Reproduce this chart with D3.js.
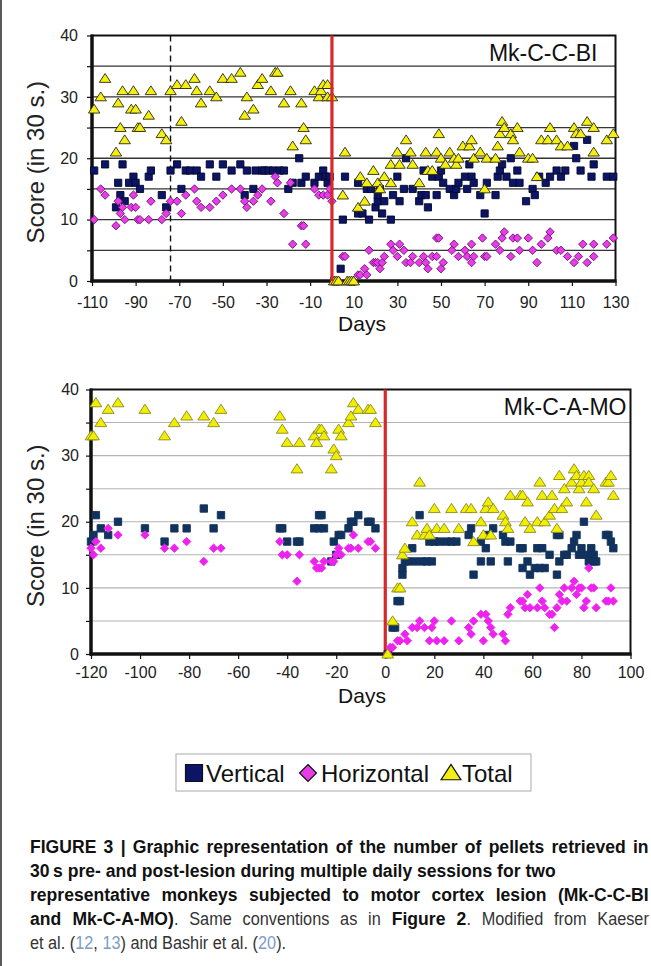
<!DOCTYPE html>
<html>
<head>
<meta charset="utf-8">
<script src="https://cdn.jsdelivr.net/npm/d3@7"></script>
<style>
  body { margin: 0; background: #fff; }
  svg { display: block; font-family: "Liberation Sans", Arial, sans-serif; }
</style>
</head>
<body>
<svg id="mysvg" width="651" height="966"></svg>
<script>
// ---- data: [day, score] ----
var scoreTicks = [0, 5, 10, 15, 20, 25, 30, 35, 40];
var ccblDayTicks = [-110, -90, -70, -50, -30, -10, 10, 30, 50, 70, 90, 110, 130];
var camoDayTicks = [-120, -100, -80, -60, -40, -20, 0, 20, 40, 60, 80, 100];
var seriesNames = ["Vertical", "Horizontal", "Total"];

var ccblVertical = [[-109,18],[-104,19],[-99,12],[-98,16],[-97,14],[-96,19],[-95,13],[-93,16],[-91,17],[-90,16],[-88,15],[-84,17],[-83,18],[-78,14],[-76,12],[-74,18],[-71,19],[-69,15],[-67,18],[-65,18],[-62,18],[-60,17],[-56,19],[-53,17],[-50,19],[-46,18],[-42,19],[-40,14],[-39,18],[-36,15],[-35,18],[-32,18],[-31,18],[-29,18],[-27,18],[-24,18],[-22,18],[-20,15],[-18,16],[-15,20],[-14,16],[-12,17],[-8,16],[-6,17],[-4,18],[-3,17],[-2,16],[-1,17],
  [1,0],[2,0],[4,2],[5,10],[6,17],[12,16],[12,11],[14,11],[16,15],[17,10],[18,15],[20,12],[21,13],[21,14],[22,15],[23,11],[24,13],[27,10],[28,14],[30,17],[31,13],[33,15],[34,20],[37,15],[40,13],[41,14],[42,18],[43,14],[44,12],[46,17],[48,14],[49,17],[50,18],[51,16],[54,15],[56,14],[57,15],[58,16],[61,17],[62,15],[63,19],[64,17],[65,16],[68,14],[70,11],[71,16],[75,14],[76,17],[77,18],[78,19],[80,17],[82,20],[83,16],[85,18],[86,16],[89,13],[92,15],[93,14],[95,17],[98,16],[100,17],[103,18],[105,17],[107,18],[111,22],[112,20],[114,18],[117,23],[119,17],[120,19],[126,17],[129,17]];
var ccblHorizontal = [[-109,10],[-106,15],[-104,14],[-99,9],[-98,13],[-97,11],[-96,12],[-95,10],[-92,12],[-91,14],[-90,12],[-89,10],[-88,10],[-84,10],[-83,13],[-78,10],[-76,11],[-74,13],[-71,13],[-69,11],[-67,14],[-63,15],[-62,13],[-60,12],[-56,12],[-53,13],[-50,14],[-46,15],[-42,15],[-40,13],[-39,12],[-36,13],[-34,14],[-32,15],[-28,13],[-26,17],[-25,16],[-22,11],[-19,16],[-18,6],[-14,9],[-13,9],[-12,6],[-8,15],[-6,14],[-4,14],[-2,14],[-1,15],[0,13],
  [1,0],[2,0],[3,0],[5,4],[6,4],[8,0],[9,0],[10,0],[12,1],[13,1],[15,2],[16,1],[17,5],[19,3],[20,3],[21,3],[22,2],[23,3],[24,4],[27,6],[28,5],[30,4],[31,6],[33,5],[34,3],[36,3],[37,4],[40,3],[42,4],[43,3],[44,2],[46,4],[48,4],[48,7],[49,7],[50,2],[51,3],[55,5],[56,6],[58,4],[61,5],[62,4],[64,3],[64,6],[65,4],[69,7],[70,4],[71,4],[75,6],[77,5],[78,7],[79,8],[82,4],[83,7],[85,7],[86,5],[90,7],[92,5],[94,3],[96,6],[99,7],[100,8],[103,5],[105,5],[108,4],[111,3],[113,4],[115,6],[117,3],[120,4],[120,6],[126,6],[129,7]];
var ccblTotal = [[-109,28],[-106,30],[-104,33],[-99,21],[-98,29],[-97,25],[-96,31],[-95,23],[-92,28],[-91,31],[-90,28],[-89,25],[-88,25],[-84,27],[-83,31],[-78,24],[-76,23],[-74,31],[-71,32],[-69,26],[-67,32],[-63,33],[-62,31],[-60,29],[-56,31],[-53,30],[-50,33],[-46,33],[-42,34],[-40,27],[-39,30],[-36,28],[-34,32],[-32,33],[-28,31],[-26,34],[-25,34],[-22,29],[-19,31],[-18,22],[-14,29],[-13,25],[-12,23],[-8,31],[-6,30],[-5,31],[-4,32],[-2,32],[-2,30],[0,30],
  [1,0],[2,0],[3,0],[7,0],[8,0],[9,0],[10,0],[5,14],[6,21],[12,12],[13,17],[15,13],[16,16],[19,18],[21,16],[22,15],[24,17],[27,16],[27,19],[30,21],[31,19],[34,23],[36,21],[37,19],[40,16],[43,21],[44,18],[46,18],[48,21],[49,24],[50,20],[52,19],[54,21],[56,20],[57,19],[58,20],[60,22],[63,22],[64,23],[65,20],[68,21],[70,15],[71,20],[75,20],[76,22],[77,24],[78,26],[79,25],[82,24],[83,23],[85,25],[86,21],[90,20],[92,20],[94,17],[96,23],[99,23],[100,25],[103,23],[105,22],[108,22],[111,25],[112,24],[114,24],[117,26],[120,21],[120,25],[126,23],[129,24]];

var camoVertical = [[-120,17],[-119,18],[-118,21],[-116,19],[-113,18],[-109,20],[-98,19],[-90,17],[-86,19],[-81,19],[-74,22],[-70,19],[-67,21],[-43,19],[-42,19],[-40,17],[-36,17],[-35,17],[-29,19],[-27,21],[-26,21],[-27,19],[-25,19],[-22,14],[-21,17],[-20,15],[-19,18],[-18,18],[-15,19],[-14,20],[-13,20],[-11,21],[-7,20],[-6,20],[-4,19],
  [1,0],[3,4],[4,4],[5,8],[6,8],[7,13],[7,12],[8,14],[9,14],[11,16],[12,14],[14,21],[15,14],[17,14],[19,14],[18,17],[20,17],[22,17],[25,17],[27,17],[29,17],[34,18],[35,19],[36,12],[39,14],[39,17],[41,16],[42,18],[43,14],[44,19],[48,18],[49,17],[50,14],[51,17],[55,16],[56,16],[56,13],[58,14],[59,12],[61,13],[62,16],[63,13],[64,16],[65,13],[67,15],[70,12],[70,18],[71,18],[71,14],[73,15],[74,15],[76,16],[77,17],[78,18],[79,15],[80,16],[81,20],[82,15],[83,14],[84,16],[85,15],[85,14],[86,14],[90,18],[91,18],[92,17],[93,16]];
var camoHorizontal = [[-120,16],[-119,15],[-118,17],[-116,16],[-113,19],[-109,18],[-98,18],[-90,16],[-86,16],[-81,17],[-74,14],[-70,16],[-67,16],[-43,17],[-42,15],[-40,15],[-36,11],[-35,15],[-29,14],[-28,13],[-27,13],[-26,13],[-25,14],[-22,14],[-21,14],[-20,15],[-19,16],[-18,15],[-15,16],[-14,16],[-13,18],[-11,16],[-7,17],[-6,17],[-4,16],
  [1,0],[2,1],[3,1],[5,2],[6,2],[8,3],[9,2],[11,4],[13,4],[14,5],[16,4],[18,2],[19,4],[20,5],[21,2],[24,2],[27,5],[30,2],[34,4],[35,3],[36,5],[39,6],[40,2],[41,6],[42,5],[43,4],[44,3],[48,3],[49,2],[50,6],[51,7],[55,8],[56,8],[57,7],[58,9],[59,7],[62,7],[63,10],[64,8],[65,7],[67,6],[68,6],[69,4],[70,7],[71,9],[72,8],[73,10],[74,8],[76,10],[77,11],[78,9],[79,10],[80,10],[81,7],[82,8],[83,13],[84,10],[85,10],[86,7],[90,8],[91,8],[92,10],[93,8]];
var camoTotal = [[-120,33],[-119,33],[-118,38],[-116,35],[-113,37],[-109,38],[-98,37],[-90,33],[-86,35],[-81,36],[-74,36],[-70,35],[-67,37],[-43,36],[-42,34],[-40,32],[-36,28],[-35,32],[-29,33],[-28,32],[-27,34],[-26,34],[-25,33],[-22,28],[-21,31],[-20,30],[-19,34],[-18,33],[-15,35],[-14,36],[-13,38],[-11,37],[-7,37],[-6,37],[-4,35],
  [1,0],[3,5],[5,10],[6,10],[7,15],[8,16],[11,20],[13,18],[14,26],[16,18],[17,19],[18,18],[20,22],[21,19],[24,19],[27,22],[30,19],[33,22],[35,22],[36,17],[39,20],[40,18],[41,22],[42,23],[43,18],[44,22],[48,21],[49,20],[50,19],[51,24],[55,24],[56,24],[57,20],[58,23],[59,19],[62,20],[63,26],[64,24],[65,20],[67,21],[68,24],[69,22],[70,19],[71,27],[72,22],[73,25],[74,23],[76,26],[77,28],[78,27],[79,25],[80,26],[81,27],[82,23],[83,27],[83,26],[85,25],[86,21],[90,26],[91,26],[92,27],[93,24]];

var svg = d3.select("#mysvg");

// left page rule
svg.append("line").attr("x1", 1).attr("x2", 1).attr("y1", 0).attr("y2", 966)
  .attr("stroke", "#222").attr("stroke-width", 1.5);

function squarePath(s){ return "M" + (-s) + "," + (-s) + "h" + (2*s) + "v" + (2*s) + "h" + (-2*s) + "Z"; }
function diamondPath(s){ return "M0," + (-s) + "L" + s + ",0L0," + s + "L" + (-s) + ",0Z"; }
function trianglePath(s){ return "M0," + (-s*0.95) + "L" + (s*1.1) + "," + (s*0.75) + "L" + (-s*1.1) + "," + (s*0.75) + "Z"; }

function drawPanel(p){
  var x = d3.scaleLinear().domain(p.xDomain).range([p.left, p.right]);
  var y = d3.scaleLinear().domain([0, 40]).range([p.bottom, p.top]);
  var g = svg.append("g");

  // gridlines
  g.selectAll(".grid").data(scoreTicks.filter(function(d){ return d > 0 && d < 40; }))
    .enter().append("line")
      .attr("x1", p.left).attr("x2", p.right)
      .attr("y1", function(d){ return y(d); }).attr("y2", function(d){ return y(d); })
      .attr("stroke", p.gridColor).attr("stroke-width", p.gridWidth);

  // dashed reference line (first panel only)
  if (p.dashDay !== undefined) {
    g.append("line")
      .attr("x1", x(p.dashDay)).attr("x2", x(p.dashDay))
      .attr("y1", p.top).attr("y2", p.bottom)
      .attr("stroke", "#111").attr("stroke-width", 1.4)
      .attr("stroke-dasharray", "6,4");
  }

  // axes (plain hyphen minus like the original)
  var yAxis = g.append("g")
    .attr("transform", "translate(" + p.left + ",0)")
    .call(d3.axisLeft(y).tickValues(scoreTicks).tickSize(5).tickPadding(p.yPad)
      .tickFormat(function(d){ return d % 10 === 0 ? String(d) : ""; }));
  var xAxis = g.append("g")
    .attr("transform", "translate(0," + p.bottom + ")")
    .call(d3.axisBottom(x).tickValues(p.xTicks).tickSize(5).tickPadding(p.xPad)
      .tickFormat(function(d){ return String(d); }));
  [yAxis, xAxis].forEach(function(a){
    a.select(".domain").remove();
    a.selectAll("line").attr("stroke", "#111").attr("stroke-width", 1.2);
    a.selectAll("text").attr("font-size", "16px").attr("fill", "#222")
      .attr("font-family", "Liberation Sans, Arial, sans-serif");
  });

  // frame: thin top/right, heavy left/bottom
  g.append("rect").attr("x", p.left).attr("y", p.top)
    .attr("width", p.right - p.left).attr("height", p.bottom - p.top)
    .attr("fill", "none").attr("stroke", "#111").attr("stroke-width", 2);
  g.append("line").attr("x1", p.left).attr("x2", p.left).attr("y1", p.top - 1).attr("y2", p.bottom + 1.5)
    .attr("stroke", "#111").attr("stroke-width", 3.5);
  g.append("line").attr("x1", p.left - 1.5).attr("x2", p.right + 1).attr("y1", p.bottom).attr("y2", p.bottom)
    .attr("stroke", "#111").attr("stroke-width", 3.5);

  // lesion line
  var red = g.append("line")
    .attr("x1", x(0)).attr("x2", x(0)).attr("y1", p.top).attr("y2", p.bottom)
    .attr("stroke", "#d8282a").attr("stroke-width", 3.2);

  // series
  var marks = [
    {data: p.vertical, path: squarePath(p.sq), fill: p.sqFill, stroke: p.sqStroke},
    {data: p.horizontal, path: diamondPath(p.dm), fill: p.dmFill, stroke: p.dmStroke},
    {data: p.total, path: trianglePath(p.tr), fill: p.trFill, stroke: p.trStroke}
  ];
  marks.forEach(function(m){
    g.append("g").selectAll("path").data(m.data).enter().append("path")
      .attr("d", m.path)
      .attr("transform", function(d){ return "translate(" + x(d[0]) + "," + y(d[1]) + ")"; })
      .attr("fill", m.fill).attr("stroke", m.stroke).attr("stroke-width", 0.9);
  });
  if (p.redOnTop) red.raise();

  // titles
  g.append("text").attr("x", p.right - p.nameInset).attr("y", p.nameY)
    .attr("text-anchor", "end").attr("font-size", "23px").attr("fill", "#111")
    .text(p.name);
  g.append("text")
    .attr("transform", "translate(44," + ((p.top + p.bottom) / 2 + 4) + ")rotate(-90)")
    .attr("text-anchor", "middle").attr("font-size", "24px").attr("fill", "#222")
    .text("Score (in 30 s.)");
  g.append("text").attr("x", 362).attr("y", p.daysY)
    .attr("text-anchor", "middle").attr("font-size", "21px").attr("fill", "#111")
    .text("Days");
}

drawPanel({
  name: "Mk-C-C-BI", xDomain: [-110, 130], xTicks: ccblDayTicks,
  left: 92, right: 615.5, top: 35.5, bottom: 281, yPad: 9, xPad: 11, dashDay: -74,
  gridColor: "#333", gridWidth: 1.3, nameInset: 18, nameY: 61, daysY: 331, redOnTop: true,
  vertical: ccblVertical, horizontal: ccblHorizontal, total: ccblTotal,
  sq: 3.6, sqFill: "#0c1466", sqStroke: "#05082a",
  dm: 4.2, dmFill: "#e83ce8", dmStroke: "#6a1470",
  tr: 5.2, trFill: "#f4ef10", trStroke: "#2a2a10"
});

drawPanel({
  name: "Mk-C-A-MO", xDomain: [-120, 100], xTicks: camoDayTicks,
  left: 91, right: 630.5, top: 389.5, bottom: 654, yPad: 7, xPad: 8,
  gridColor: "#b4b4b4", gridWidth: 1.1, nameInset: 4, nameY: 415, daysY: 703, redOnTop: false,
  vertical: camoVertical, horizontal: camoHorizontal, total: camoTotal,
  sq: 3.7, sqFill: "#12325e", sqStroke: "#12325e",
  dm: 4.2, dmFill: "#ee22ee", dmStroke: "#ee22ee",
  tr: 5.4, trFill: "#f2ee00", trStroke: "#8a8a20"
});

// legend
var legend = svg.append("g");
legend.append("rect").attr("x", 176).attr("y", 754).attr("width", 355).attr("height", 37)
  .attr("fill", "#fff").attr("stroke", "#aaa").attr("stroke-width", 1);
var legendItems = [
  {name: seriesNames[0], path: squarePath(8.5), fill: "#0c1466", mx: 194, tx: 206},
  {name: seriesNames[1], path: diamondPath(8.5), fill: "#e83ce8", mx: 308, tx: 321},
  {name: seriesNames[2], path: trianglePath(9), fill: "#f4ef10", mx: 451, tx: 462}
];
legendItems.forEach(function(it){
  legend.append("path").attr("d", it.path)
    .attr("transform", "translate(" + it.mx + ",773)")
    .attr("fill", it.fill).attr("stroke", "#111").attr("stroke-width", 1.2);
  legend.append("text").attr("x", it.tx).attr("y", 781.5)
    .attr("font-size", "24px").attr("fill", "#111").text(it.name);
});

// caption: condensed face in the original, lines 1, 3, 4 run to the right margin
var captionLines = [
  [{t: "FIGURE 3 | Graphic representation of the number of pellets retrieved in", b: true}],
  [{t: "30\u2009s pre- and post-lesion during multiple daily sessions for two", b: true}],
  [{t: "representative monkeys subjected to motor cortex lesion (Mk-C-C-BI", b: true}],
  [{t: "and Mk-C-A-MO)", b: true}, {t: ". Same conventions as in ", b: false}, {t: "Figure 2", b: true}, {t: ". Modified from Kaeser", b: false}],
  [{t: "et al. (", b: false}, {t: "12", b: false, c: "#7a9cc6"}, {t: ", ", b: false}, {t: "13", b: false, c: "#7a9cc6"}, {t: ") and Bashir et al. (", b: false}, {t: "20", b: false, c: "#7a9cc6"}, {t: ").", b: false}]
];
var captionJustify = [true, false, true, true, false];
var boldScale = 0.95, regScale = 0.88, captionRight = 649;
var caption = svg.append("g");
captionLines.forEach(function(line, i){
  var yy = 853 + i * 24;
  var segs = line.map(function(s){
    var t = caption.append("text").attr("font-size", "18.5px")
      .style("white-space", "pre")
      .attr("font-weight", s.b ? "bold" : "normal")
      .attr("fill", s.c ? s.c : (s.b ? "#111" : "#333"))
      .text(s.t);
    return {el: t, w: t.node().getComputedTextLength(), k: s.b ? boldScale : regScale,
            n: (s.t.match(/ /g) || []).length};
  });
  var total = d3.sum(segs, function(s){ return s.w * s.k; });
  var spaces = d3.sum(segs, function(s){ return s.n; });
  var extra = captionJustify[i] && spaces ? Math.max(0, (captionRight - 30 - total) / spaces) : 0;
  var xx = 30;
  segs.forEach(function(s){
    s.el.attr("word-spacing", extra / s.k)
      .attr("transform", "translate(" + xx + "," + yy + ")scale(" + s.k + ",1)");
    xx += s.w * s.k + s.n * extra;
  });
});
</script>
</body>
</html>
